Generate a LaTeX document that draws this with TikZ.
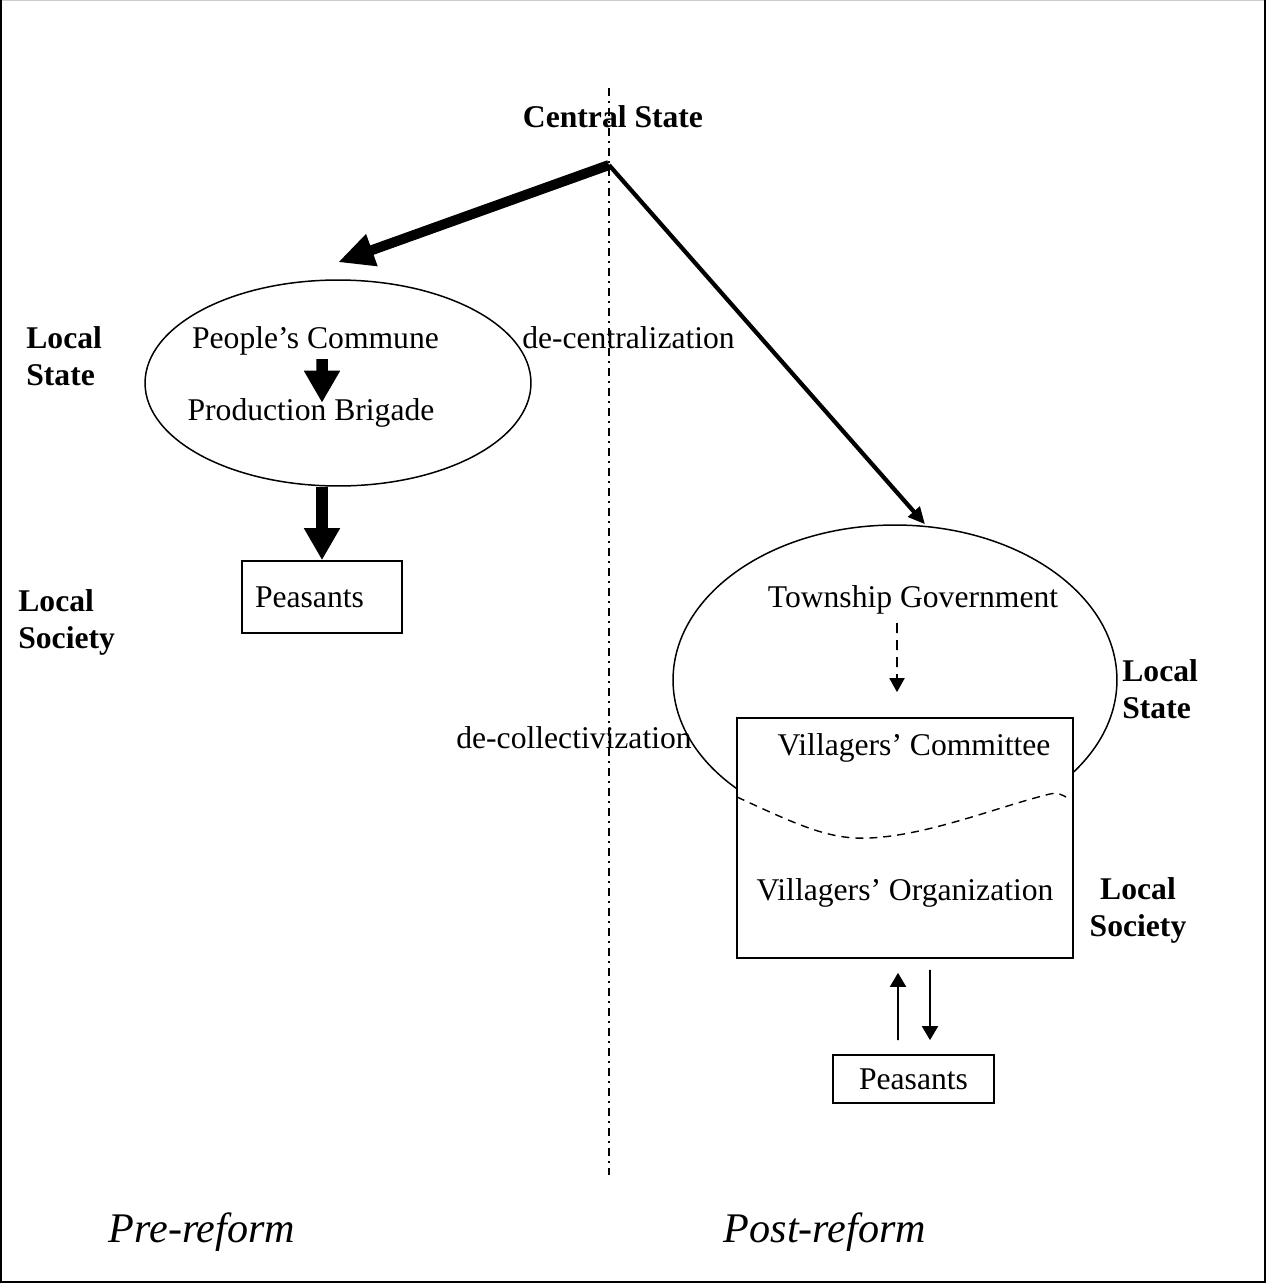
\documentclass[tikz,border=0pt]{standalone}
\usepackage{fontspec}
\setmainfont{Liberation Serif}
\usetikzlibrary{positioning, arrows.meta, shapes.geometric}

\begin{document}
\begin{tikzpicture}[
        x=0.02cm, y=-0.02cm,
        % testi
        txt/.style={inner sep=0pt, font=\fontsize{18}{21}\selectfont},
        lbl/.style={inner sep=0pt, align=left, font=\fontsize{18}{21}\selectfont\bfseries},
        era/.style={inner sep=0pt, font=\fontsize{24}{28}\selectfont\itshape},
        % ellissi e riquadri
        oval/.style={draw, ellipse, line width=0.85pt},
        box/.style={draw, rectangle, line width=1pt, fill=white, font=\fontsize{18}{21}\selectfont},
        % frecce
        bigarrow/.style={line width=0.2cm, -{Triangle[length=0.72cm,width=0.63cm]}},
        thinarrow/.style={line width=2.4pt, -{Triangle[length=0.34cm,width=0.3cm]}},
        fatarrow/.style={line width=0.23cm, -{Triangle[length=0.64cm,width=0.68cm]}},
        dasharrow/.style={line width=1.1pt, dash pattern=on 0.2cm off 0.14cm, -{Triangle[length=0.28cm,width=0.3cm]}},
        smallarrow/.style={line width=1.1pt, -{Triangle[length=0.28cm,width=0.32cm]}},
        divider/.style={line width=0.6pt, dash pattern=on 0.16cm off 0.1cm on 0.04cm off 0.1cm}
    ]
        \useasboundingbox (0,0) rectangle (1266,1285);

        % cornice
        \draw[gray!40, line width=0.6pt] (0,0.6) -- (1266,0.6);
        \draw[line width=1.3pt] (1.3,0) -- (1.3,1282) -- (1264.7,1282) -- (1264.7,0);

        % stato centrale
        \node[txt, anchor=base] (central) at (613,127) {\bfseries Central State};
        \coordinate (apex) at (609,165);

        % etichette dei livelli
        \node[lbl, anchor=west] (lsl) at (26,356) {Local\\State};
        \node[lbl, anchor=west] (lsocl) at (18,622) {Local\\Society};
        \node[lbl, anchor=west] (lsr) at (1122,689) {Local\\State};
        \node[lbl, align=center] (lsocr) at (1138,910) {Local\\Society};

        % prima della riforma
        \node[oval, minimum width=7.72cm, minimum height=4.12cm] (commune) at (338,383) {};
        \node[txt, anchor=base] (pc) at (315.5,348) {People’s Commune};
        \node[txt, anchor=base] (pb) at (311,420) {Production Brigade};
        \node[box, text width=2.68cm, inner xsep=0.26cm, inner ysep=0pt, minimum height=1.44cm, align=left] (pleft) at (322,597) {Peasants};

        % dopo la riforma
        \node[oval, minimum width=8.88cm, minimum height=6.2cm] (township) at (895,680) {};
        \node[txt, anchor=base] (tg) at (913,607) {Township Government};
        \node[box, minimum width=6.72cm, minimum height=4.8cm] (vbox) at (905,838) {};
        \node[txt, anchor=base] (vc) at (914,755) {Villagers’ Committee};
        \node[txt, anchor=base] (vo) at (905,900) {Villagers’ Organization};
        \node[box, minimum width=3.22cm, minimum height=0.96cm, inner sep=0pt] (pright) at (913.5,1079) {Peasants};

        % processi
        \node[txt, anchor=base] (decen) at (628.5,348) {de-centralization};
        \node[txt, anchor=base] (decol) at (574,748) {de-collectivization};

        % confine tra stato e societa
        \draw[line width=0.8pt, dash pattern=on 0.16cm off 0.12cm] (737,797) .. controls (800,826) and (830,840) .. (870,838)
            .. controls (930,835) and (1000,806) .. (1050,794) .. controls (1058,792) and (1062,795) .. (1066,797);

        % frecce
        \draw[bigarrow] (apex) -- ([yshift=0.34cm]commune.north);
        \draw[thinarrow] (apex) -- ([xshift=0.6cm]township.north);
        \draw[fatarrow] ([xshift=0.13cm,yshift=-0.08cm]pc.south) -- ([xshift=0.22cm,yshift=-0.1cm]pb.north);
        \draw[fatarrow] (pleft.north |- commune.south) -- (pleft.north);
        \draw[dasharrow] ([xshift=-0.32cm,yshift=-0.18cm]tg.south) -- ([xshift=-0.16cm,yshift=0.5cm]vbox.north);
        \draw[smallarrow] ([xshift=-0.31cm,yshift=0.28cm]pright.north) -- ([xshift=-0.14cm,yshift=-0.28cm]vbox.south);
        \draw[smallarrow] ([xshift=0.5cm,yshift=-0.22cm]vbox.south) -- ([xshift=0.33cm,yshift=0.28cm]pright.north);

        % linea divisoria
        \draw[divider] (609,88) -- (609,1175);

        % periodi
        \node[era, anchor=base] (pre) at (202,1242) {Pre-reform};
        \node[era, anchor=base] (post) at (825,1242) {Post-reform};

    \end{tikzpicture}
\end{document}
